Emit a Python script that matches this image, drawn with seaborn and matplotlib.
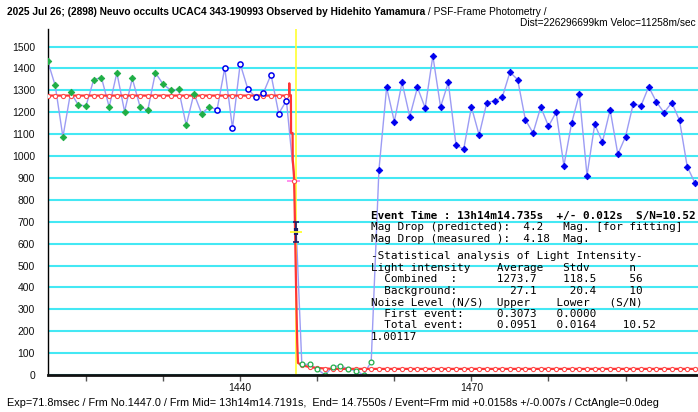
import matplotlib
matplotlib.use('Agg')
import matplotlib.pyplot as plt
import seaborn as sns

# ---------------- data ----------------
pre_frames = list(range(1415, 1437))
pre_vals = [1436, 1322, 1087, 1291, 1233, 1229, 1349, 1358, 1224, 1380,
            1203, 1354, 1226, 1208, 1380, 1328, 1300, 1305, 1141, 1285,
            1194, 1224]
near_frames = list(range(1437, 1447))
near_vals = [1212, 1402, 1127, 1421, 1305, 1270, 1287, 1372, 1194, 1253]
drop_frames = [1447]
drop_vals = [890]
bg_frames = list(range(1448, 1458))
bg_vals = [48, 49, 27, 0, 38, 43, 27, 20, 0, 61]
post_frames = list(range(1458, 1500))
post_vals = [936, 1313, 1157, 1336, 1180, 1313, 1220, 1457, 1224, 1336,
             1051, 1031, 1224, 1096, 1244, 1252, 1268, 1383, 1349, 1166,
             1105, 1224, 1136, 1200, 956, 1150, 1282, 911, 1145, 1064,
             1211, 1008, 1089, 1238, 1229, 1316, 1247, 1198, 1244, 1163,
             952, 877]

# model (fit) values at frames
model_high = 1274
model_mid_frame = 1447
model_mid = 888
model_tail_frames = [1448, 1449, 1450]
model_tail_vals = [45, 36, 32]
model_low = 28

# fitted light curve (drawn line)
curve_x = [1415, 1446.35, 1446.37, 1446.39, 1446.58, 1446.6, 1446.8, 1446.82,
           1446.95, 1447.0, 1447.1, 1447.25, 1447.4, 1447.5, 1448, 1449, 1450,
           1452, 1499.4]
curve_y = [1276, 1276, 1332, 1278, 1278, 1105, 1105, 982, 930, 888, 700, 400,
           150, 55, 45, 36, 32, 28, 28]

event_frame = 1447.22
event_err_center = 653
event_err_half = 44
mid_cross_val = 888

yticks = list(range(0, 1600, 100))
xticks = [1420, 1430, 1440, 1450, 1460, 1470, 1480, 1490]
xtick_labels = ['', '', '1440', '', '', '1470', '', '']

title_bold = "2025 Jul 26; (2898) Neuvo occults UCAC4 343-190993 Observed by Hidehito Yamamura"
title_reg = " / PSF-Frame Photometry /"
title2 = "Dist=226296699km Veloc=11258m/sec"
bottom_text = ("Exp=71.8msec / Frm No.1447.0 / Frm Mid= 13h14m14.7191s,  End= 14.7550s / "
               "Event=Frm mid +0.0158s +/-0.007s / CctAngle=0.0deg")
event_line = "Event Time : 13h14m14.735s  +/- 0.012s  S/N=10.52"
info_lines = [
    "Mag Drop (predicted):  4.2   Mag. [for fitting]",
    "Mag Drop (measured ):  4.18  Mag.",
    "-Statistical analysis of Light Intensity-",
    "Light intensity    Average   Stdv      n",
    "  Combined  :      1273.7    118.5     56",
    "  Background:        27.1     20.4     10",
    "Noise Level (N/S)  Upper    Lower   (S/N)",
    "  First event:     0.3073   0.0000",
    "  Total event:     0.0951   0.0164    10.52",
    "1.00117",
]

# ---------------- build ----------------
model_frames = list(range(1415, 1500))
model_vals = ([model_high] * len(range(1415, 1447)) + [model_mid] + model_tail_vals
              + [model_low] * len(range(1451, 1500)))

all_frames = pre_frames + near_frames + drop_frames + bg_frames + post_frames
all_vals = pre_vals + near_vals + drop_vals + bg_vals + post_vals

sns.set_theme(style='white')
plt.rcParams['font.family'] = ['Liberation Sans', 'DejaVu Sans']

W, H = 698, 412
fig = plt.figure(figsize=(W / 100, H / 100), dpi=100)
fig.patch.set_facecolor('white')
L, T, B = 47.5, 29, 375
ax = fig.add_axes([L / W, (H - B) / H, (W - L) / W, (B - T) / H])
ax.set_facecolor('white')

ax.set_yticks(yticks)
ax.yaxis.grid(True, color='#44E8F4', lw=1.5, zorder=0)
ax.set_axisbelow(True)

ax.axvline(event_frame, color='#ffff30', lw=1.2, zorder=2.2)

sns.lineplot(x=all_frames, y=all_vals, color='#9c9cf4', lw=1.0, ax=ax,
             estimator=None, sort=False, zorder=2)
sns.lineplot(x=curve_x, y=curve_y, color='#ff3636', lw=1.6, ax=ax,
             estimator=None, sort=False, zorder=3)

sns.scatterplot(x=model_frames, y=model_vals, marker='o', s=9, color='white',
                edgecolor='#ff4a4a', linewidth=0.8, ax=ax, zorder=4)
sns.scatterplot(x=pre_frames, y=pre_vals, marker='D', s=11, color='#1fae45',
                edgecolor='#1fae45', linewidth=0.6, ax=ax, zorder=5)
sns.scatterplot(x=near_frames, y=near_vals, marker='o', s=14, color='white',
                edgecolor='#0000ee', linewidth=1.1, ax=ax, zorder=5)
sns.scatterplot(x=bg_frames, y=bg_vals, marker='o', s=12, color='white',
                edgecolor='#22b04a', linewidth=0.9, ax=ax, zorder=5)
sns.scatterplot(x=post_frames, y=post_vals, marker='D', s=11, color='#0000ee',
                edgecolor='#0000ee', linewidth=0.6, ax=ax, zorder=5)

# event markers
ax.hlines(mid_cross_val, 1446.07, 1447.76, color='#ff88ee', lw=1.3, zorder=3.5)
ax.errorbar([event_frame + 0.06], [event_err_center], yerr=[event_err_half],
            color='#1c1c6a', lw=1.2, capsize=2.2, capthick=1.2, zorder=6)
ax.vlines(event_frame + 0.06, event_err_center - 12, event_err_center + 18,
          color='#1c1c6a', lw=3, zorder=6)
ax.hlines(event_err_center, 1446.46, 1447.98, color='#ffff30', lw=1.3, zorder=6.5)

ax.set_xlim(1415, 1499.4)
ax.set_ylim(0, 1580)
ax.set_xticks(xticks)
ax.set_xticklabels(xtick_labels)
ax.set_yticklabels([str(v) for v in yticks])
ax.set_xlabel('')
ax.set_ylabel('')
ax.tick_params(axis='y', length=0, pad=9, labelsize=7.5, labelcolor='#111111')
ax.tick_params(axis='x', length=4, width=1, color='#555555', pad=2,
               labelsize=7.5, labelcolor='#111111', bottom=True, direction='out')
for s in ['top', 'right']:
    ax.spines[s].set_visible(False)
ax.spines['left'].set_color('black')
ax.spines['left'].set_linewidth(1.0)
ax.spines['bottom'].set_color('#111111')
ax.spines['bottom'].set_linewidth(2.0)
ax.spines['bottom'].set_zorder(7)

# ---------------- texts ----------------
fig.canvas.draw()
r = fig.canvas.get_renderer()


def ptext(x, y, s, target_w=None, **kw):
    t = fig.text(x / W, 1 - y / H, s, va='center', **kw)
    if target_w is not None:
        w = t.get_window_extent(r).width
        t.set_fontsize(t.get_fontsize() * target_w / w)
    return t


t1 = ptext(7, 12, title_bold, target_w=421, fontsize=8, fontweight='bold', color='black')
fs = t1.get_fontsize()
ext = t1.get_window_extent(r)
ptext(ext.x1, 12, title_reg, fontsize=fs, color='black')
ptext(696, 23, title2, fontsize=fs, ha='right', color='black')
ptext(7, 403, bottom_text, target_w=655, fontsize=8, color='black')

mono = ['DejaVu Sans Mono']
tm = ptext(370.7, 227.5, info_lines[0], target_w=314, fontsize=8, family=mono, color='black')
mfs = tm.get_fontsize()
ptext(370.7, 216, event_line, fontsize=mfs, family=mono, fontweight='bold', color='black')
ys = [239, 256, 268, 279.5, 291, 302.5, 314, 325.5, 337]
for yy, s in zip(ys, info_lines[1:]):
    ptext(370.7, yy, s, fontsize=mfs, family=mono, color='black')

fig.savefig('out.png', dpi=100, facecolor='white')
